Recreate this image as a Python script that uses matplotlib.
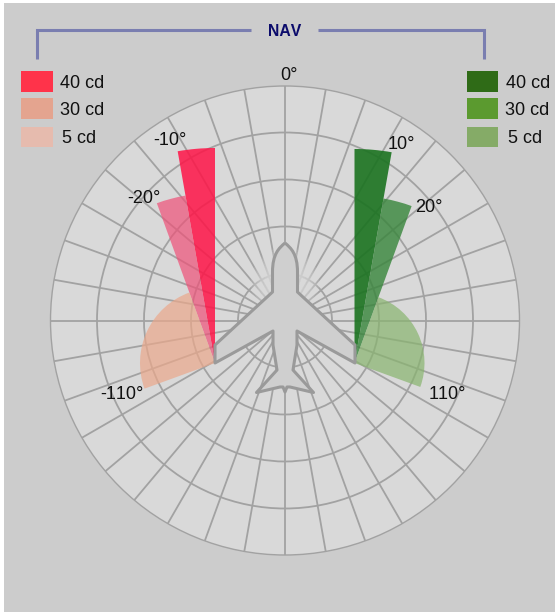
import numpy as np
import matplotlib
matplotlib.use("Agg")
import matplotlib.pyplot as plt
from matplotlib.patches import Wedge, Circle, Rectangle, PathPatch, Ellipse
from matplotlib.path import Path

plt.rcParams['font.family'] = ['Liberation Sans', 'DejaVu Sans']
plt.rcParams['text.kerning_factor'] = 12

# --- data ---
intensity_labels = ['40 cd', '30 cd', '5 cd']
sector_start = [0, 10, 20]
sector_end = [10, 20, 110]
reach_right = [214, 167, 70]
reach_left = [215, 170, 75]
left_colors = ['#ff1447', '#ef5178', '#eba88b']
right_colors = ['#1b7320', '#37853a', '#88b46e']
sector_alpha_left = [0.85, 0.7, 0.7]
sector_alpha_right = [0.9, 0.8, 0.7]
left_legend = ['#ff334a', '#e4a48f', '#e6bbae']
right_legend = ['#2f6b17', '#5b9a2f', '#85ab67']
ring_radii = [47, 94, 141, 188, 234.5]
spoke_angles = list(range(0, 360, 10))
angle_labels = ['0°', '-10°', '-20°', '-110°', '10°', '20°', '110°']
angle_label_x = [289, 169.5, 144, 121.5, 401, 428.5, 447.5]
angle_label_base = [80, 145, 203, 399, 149, 212, 399]

W, H = 555, 612
fig = plt.figure(figsize=(W / 100, H / 100), dpi=100, facecolor='white')
ax = fig.add_axes([0, 0, 1, 1])
ax.set_xlim(0, W)
ax.set_ylim(H, 0)
ax.axis('off')

ax.add_patch(Rectangle((4, 3), W, H, fc='#cccccc', ec='none', zorder=0))

cx, cy = 285, 320.5
GRID = '#a2a2a2'
R = ring_radii[-1]
ax.add_patch(Circle((cx, cy), R, fc='#d9d9d9', ec='none', zorder=1))
for a in spoke_angles:
    t = np.radians(a)
    ax.plot([cx, cx + R * np.sin(t)], [cy, cy - R * np.cos(t)],
            color=GRID, lw=1.3, zorder=2, solid_capstyle='butt')
for r in ring_radii:
    ax.add_patch(Circle((cx, cy), r, fc='none', ec=GRID, lw=1.3 if r < R else 1.0, zorder=2))

# soft glow around the fuselage
for k in np.linspace(1, 0.3, 12):
    ax.add_patch(Ellipse((285, 283), 68 * k, 72 * k, fc='#d9d9d9', ec='none', alpha=0.18, zorder=3))

# sectors
for start, end, r, col, al in zip(sector_start, sector_end, reach_right, right_colors, sector_alpha_right):
    ax.add_patch(Wedge((354.5, 363), r, start - 90, end - 90, fc=col, ec='none', alpha=al, zorder=4))
for start, end, r, col, al in zip(sector_start, sector_end, reach_left, left_colors, sector_alpha_left):
    ax.add_patch(Wedge((215, 363), r, -end - 90, -start - 90, fc=col, ec='none', alpha=al, zorder=4))

# aircraft outline (left half, nose to tail)
m = lambda p: (2 * 285 - p[0], p[1])
left = [(272.5, 292), (215, 345), (215, 363), (273, 331), (273, 345), (277, 370),
        (256.5, 392.5), (280, 387), (283, 387), (285, 392)]
verts = [(285, 243), (279, 248), (272.5, 254), (272.5, 272)] + left
verts += [m(p) for p in reversed(left[:-1])]
verts += [(297.5, 272), (297.5, 254), (291, 248), (285, 243)]
codes = [Path.MOVETO, Path.CURVE4, Path.CURVE4, Path.CURVE4] + [Path.LINETO] * (len(left) + len(left) - 1)
codes += [Path.LINETO, Path.CURVE4, Path.CURVE4, Path.CURVE4]
ax.add_patch(PathPatch(Path(verts, codes), fc='#cfcfcf', ec='#9a9a9a', lw=2.2,
                       joinstyle='round', zorder=5))

# bracket
BR = '#7a7eb0'
ax.plot([37, 37, 251], [58.5, 30, 30], color=BR, lw=2.2, solid_joinstyle='miter', solid_capstyle='butt', zorder=6)
ax.plot([318, 484, 484], [30, 30, 58.5], color=BR, lw=2.2, solid_joinstyle='miter', solid_capstyle='butt', zorder=6)
ax.text(284.5, 36, 'NAV', color='#0b0b6b', fontsize=11.3, fontweight='bold', ha='center', va='baseline', zorder=6)

# legends
tops = [71, 98, 126.5]
bases = [87.5, 115, 143]
left_x = [60, 59.5, 62]
right_x = [506, 505, 507.5]
for lab, top, base, lx, rx, lc, rc in zip(intensity_labels, tops, bases, left_x, right_x, left_legend, right_legend):
    ax.add_patch(Rectangle((21, top), 32, 20.5, fc=lc, ec='none', zorder=6))
    ax.add_patch(Rectangle((467, top), 31, 20.5, fc=rc, ec='none', zorder=6))
    ax.text(lx, base, lab, fontsize=13, color='#111111', ha='left', va='baseline', zorder=6)
    ax.text(rx, base, lab, fontsize=13, color='#111111', ha='left', va='baseline', zorder=6)

for s, x, y in zip(angle_labels, angle_label_x, angle_label_base):
    ax.text(x, y, s, fontsize=13, color='#111111', ha='center', va='baseline', zorder=6)

fig.savefig('out.png', dpi=100, facecolor='white')
